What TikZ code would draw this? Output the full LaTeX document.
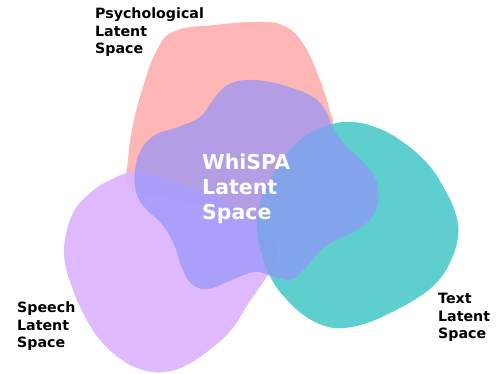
\documentclass[tikz,border=0pt]{standalone}
\usepackage{fontspec}
\setmainfont{DejaVu Sans}
\definecolor{psycol}{RGB}{255,182,182}
\definecolor{spcol}{RGB}{221,179,255}
\definecolor{txcol}{RGB}{76,201,201}
\definecolor{wcol}{RGB}{148,148,250}
\begin{document}
\begin{tikzpicture}[x=1pt,y=-1pt,
  lbl/.style={anchor=base west,inner sep=0pt,font=\bfseries\fontsize{14.2}{17}\selectfont,text=black},
  wlbl/.style={anchor=base west,inner sep=0pt,font=\bfseries\fontsize{20.5}{25}\selectfont,text=white}]
\useasboundingbox (0,0) rectangle (496,374);
% Psychological blob
\fill[psycol] plot[smooth cycle,tension=0.75] coordinates {
 (175,31) (215,25) (255,22) (282,25) (302,42) (318,75) (329,108) (332,130)
 (315,168) (296,200) (280,232) (250,222) (200,205) (150,195) (128,188)
 (128,160) (133,125) (143,87) (157,50)};
% Speech blob
\fill[spcol,fill opacity=0.9] plot[smooth cycle,tension=0.7] coordinates {
 (133,172) (155,176) (187,187) (220,200) (247,215) (266,229) (277,244)
 (276,260) (266,278) (250,301) (232,329) (212,348) (187,365) (165,372)
 (143,370) (122,360) (100,340) (83,313) (72,287) (65,263) (65,240)
 (73,213) (89,194) (110,180)};
% Text blob
\fill[txcol,fill opacity=0.9] plot[smooth cycle,tension=0.7] coordinates {
 (333,124) (352,122) (375,127) (400,140) (427,163) (445,190) (456,215)
 (458,236) (452,258) (439,280) (419,297) (390,313) (367,323) (344,328)
 (325,326) (305,316) (287,300) (272,280) (262,255) (257,228) (260,204)
 (272,176) (290,150) (310,133)};
% WhiSPA blob
\fill[wcol,fill opacity=0.7] plot[smooth cycle,tension=0.7] coordinates {
 (245,80) (270,82) (292,88) (313,97) (326,111) (333,128) (346,146)
 (363,162) (376,180) (378,200) (372,217) (357,230) (340,238) (322,249)
 (308,265) (292,279) (275,277) (255,272) (232,280) (208,289) (192,284)
 (182,268) (173,242) (160,222) (145,208) (136,192) (135,170) (141,150)
 (155,135) (178,127) (200,117) (213,100) (226,86)};
% labels
\node[lbl] (p1) at (95,19) {Psychological};
\node[lbl] (p2) at (95,36.5) {Latent};
\node[lbl] (p3) at (95,54) {Space};
\node[lbl] (s1) at (17,313) {Speech};
\node[lbl] (s2) at (17,330.5) {Latent};
\node[lbl] (s3) at (17,348) {Space};
\node[lbl] (t1) at (438,304) {Text};
\node[lbl] (t2) at (438,321.5) {Latent};
\node[lbl] (t3) at (438,339) {Space};
\node[wlbl] (w1) at (202,170) {WhiSPA};
\node[wlbl] (w2) at (202,195) {Latent};
\node[wlbl] (w3) at (202,220) {Space};
\end{tikzpicture}
\end{document}
